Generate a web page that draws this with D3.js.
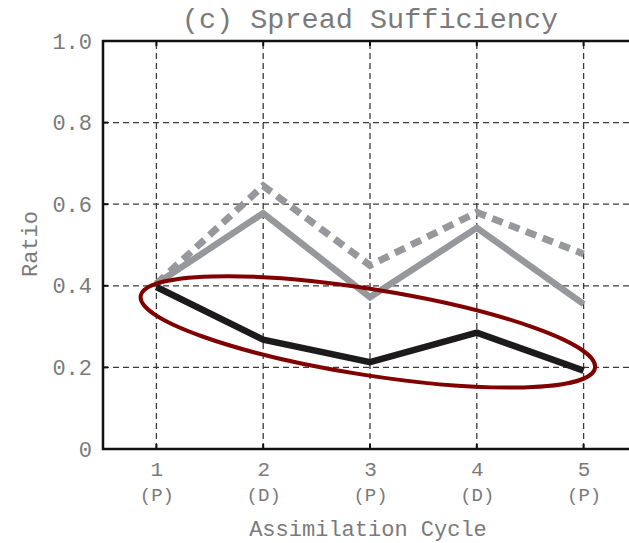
<!DOCTYPE html>
<html>
<head>
<meta charset="utf-8">
<script src="https://cdn.jsdelivr.net/npm/d3@7"></script>
<style>
  html, body { margin: 0; padding: 0; background: #fff; overflow: hidden; }
  svg { display: block; }
  text { font-family: "Liberation Mono", "Courier New", monospace; fill: #7a7a7a; }
</style>
</head>
<body>
<svg id="chart" width="629" height="543"></svg>
<script>
// Assimilation cycles and their phase tags
const cycles = [1, 2, 3, 4, 5];
const phases = ["(P)", "(D)", "(P)", "(D)", "(P)"];
const yTicks = [0, 0.2, 0.4, 0.6, 0.8, 1.0];
const yTickLabels = ["0", "0.2", "0.4", "0.6", "0.8", "1.0"];

// Spread-sufficiency ratios per cycle
const dashedGray = [0.405, 0.645, 0.45, 0.58, 0.478];
const solidGray  = [0.405, 0.578, 0.372, 0.542, 0.355];
const solidBlack = [0.397, 0.268, 0.213, 0.285, 0.192];

// Highlight ring around the black series (centre in data units)
const ringCentre = { x: 2.98, y: 0.287 };

const svg = d3.select("#chart");
const margin = { left: 103, top: 41, bottom: 449 };

const x = d3.scaleLinear().domain([0.5, 5.5]).range([margin.left, 637]);
const y = d3.scaleLinear().domain([0, 1]).range([margin.bottom, margin.top]);

const textColour = "#7a7a7a";

// Grid lines
const grid = svg.append("g")
  .attr("stroke", "#3a3a3a")
  .attr("stroke-width", 1.3)
  .attr("stroke-dasharray", "6,4");
grid.selectAll("line.v").data(cycles).join("line")
  .attr("x1", d => x(d)).attr("x2", d => x(d))
  .attr("y1", y(0)).attr("y2", y(1));
grid.selectAll("line.h").data(yTicks.filter(v => v > 0 && v < 1)).join("line")
  .attr("x1", x(0.5)).attr("x2", x(5.5))
  .attr("y1", d => y(d)).attr("y2", d => y(d));

// Axes
const xAxisBottom = d3.axisBottom(x).tickValues(cycles).tickSize(0).tickPadding(12)
  .tickFormat(d3.format("d"));
const gx = svg.append("g").attr("transform", `translate(0,${y(0)})`).call(xAxisBottom);
gx.select(".domain").remove();
gx.selectAll("text").attr("font-size", 21).attr("fill", textColour)
  .attr("font-family", "Liberation Mono, monospace");
gx.selectAll(".tick").append("text")
  .attr("y", 52).attr("text-anchor", "middle")
  .attr("font-size", 19).attr("fill", textColour)
  .text((d, i) => phases[i]);

const yAxis = d3.axisLeft(y).tickValues(yTicks).tickSize(0).tickPadding(11)
  .tickFormat((d, i) => yTickLabels[i]);
const gy = svg.append("g").attr("transform", `translate(${x(0.5)},0)`).call(yAxis);
gy.select(".domain").remove();
gy.selectAll("text").attr("font-size", 22).attr("fill", textColour)
  .attr("font-family", "Liberation Mono, monospace");

// Inner tick marks
const ticks = svg.append("g").attr("stroke", "#111").attr("stroke-width", 2);
ticks.selectAll("line.t").data(cycles).join("line")
  .attr("x1", d => x(d)).attr("x2", d => x(d))
  .attr("y1", y(1)).attr("y2", y(1) + 5);
ticks.selectAll("line.b").data(cycles).join("line")
  .attr("x1", d => x(d)).attr("x2", d => x(d))
  .attr("y1", y(0)).attr("y2", y(0) - 5);
ticks.selectAll("line.l").data(yTicks).join("line")
  .attr("x1", x(0.5)).attr("x2", x(0.5) + 5)
  .attr("y1", d => y(d)).attr("y2", d => y(d));

// Frame
svg.append("path")
  .attr("d", `M${x(5.5)},${y(1)}H${x(0.5)}V${y(0)}H${x(5.5)}`)
  .attr("fill", "none").attr("stroke", "#111").attr("stroke-width", 2.5);

// Series
const line = d3.line().x((d, i) => x(cycles[i])).y(d => y(d));
svg.append("path").datum(dashedGray).attr("d", line)
  .attr("fill", "none").attr("stroke", "#97989c").attr("stroke-width", 7)
  .attr("stroke-dasharray", "11,7");
svg.append("path").datum(solidGray).attr("d", line)
  .attr("fill", "none").attr("stroke", "#97989c").attr("stroke-width", 6.5)
  .attr("stroke-linejoin", "miter");
svg.append("path").datum(solidBlack).attr("d", line)
  .attr("fill", "none").attr("stroke", "#1c1a1b").attr("stroke-width", 6.5)
  .attr("stroke-linejoin", "miter");

// Highlight ring
svg.append("ellipse")
  .attr("cx", 0).attr("cy", 0).attr("rx", 230).attr("ry", 43)
  .attr("transform", `translate(${x(ringCentre.x)},${y(ringCentre.y)}) rotate(9)`)
  .attr("fill", "none").attr("stroke", "#800000").attr("stroke-width", 4);

// Titles
svg.append("text").attr("x", 370).attr("y", 28).attr("text-anchor", "middle")
  .attr("font-size", 28.5).attr("fill", "#666").text("(c) Spread Sufficiency");
svg.append("text").attr("x", 368).attr("y", 536).attr("text-anchor", "middle")
  .attr("font-size", 22).text("Assimilation Cycle");
svg.append("text").attr("transform", "translate(37,244) rotate(-90)")
  .attr("text-anchor", "middle").attr("font-size", 22).text("Ratio");
</script>
</body>
</html>
